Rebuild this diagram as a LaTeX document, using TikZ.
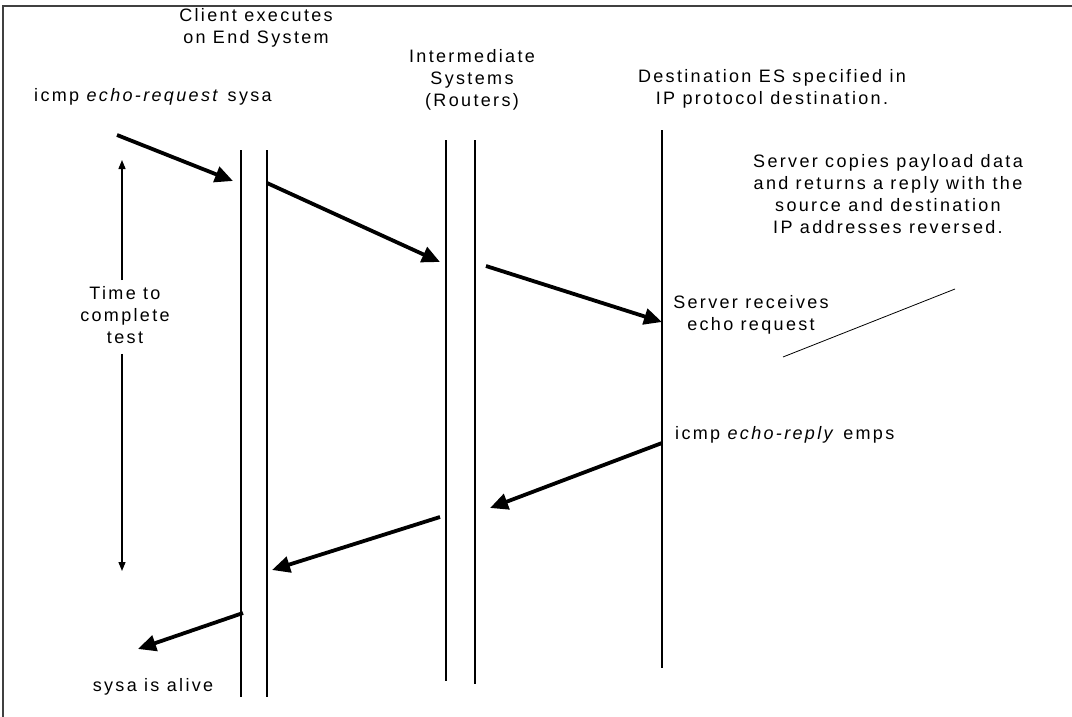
\documentclass[tikz,border=0pt]{standalone}
\usepackage{fontspec}
\setmainfont{Liberation Sans}[LetterSpace=13]
\usetikzlibrary{arrows.meta,positioning}

\begin{document}
\begin{tikzpicture}[x=1pt,y=-1pt,
    lifeline/.style={line width=1.7pt},
    msg/.style={line width=3.8pt, -{Triangle[length=18pt,width=16pt]}},
    timeline/.style={line width=1.4pt, -{Triangle[length=9pt,width=7pt]}},
    lbl/.style={inner sep=0pt, align=center, font=\fontsize{18}{22}\selectfont}]
    \useasboundingbox (0,0) rectangle (1072,717);
    \draw[line width=2.4pt, black!75] (3,717) -- (3,6) -- (1072,6);

    % lifelines
    \draw[lifeline] (241,150) -- (241,697);
    \draw[lifeline] (267,150) -- (267,697);
    \draw[lifeline] (446,140) -- (446,681);
    \draw[lifeline] (475,140) -- (475,684);
    \draw[lifeline] (662,130) -- (662,668);

    % headings
    \node[lbl] (client) at (256,28) {Client executes\\on End System};
    \node[lbl] (routers) at (472,80) {Intermediate\\Systems\\(Routers)};
    \node[lbl] (dest) at (772,89) {Destination ES specified in\\IP protocol destination.};

    % request path
    \node[lbl, anchor=west] (req) at (34,97) {icmp \textit{echo-request} sysa};
    \coordinate (req0) at (117,135);
    \coordinate (req1) at (233,181);
    \coordinate (req2) at (267,183);
    \coordinate (req3) at (440,262);
    \coordinate (req4) at (486,266);
    \coordinate (req5) at (662,322);
    \draw[msg] (req0) -- (req1);
    \draw[msg] (req2) -- (req3);
    \draw[msg] (req4) -- (req5);

    \node[lbl] (copies) at (888,194) {Server copies payload data\\and returns a reply with the\\source and destination\\IP addresses reversed.};
    \node[lbl] (recv) at (751,315) {Server receives\\echo request};
    \coordinate (noteA) at (783,357);
    \coordinate (noteB) at (955,289);
    \draw[line width=0.8pt] (noteA) -- (noteB);

    % reply path
    \node[lbl, anchor=west] (rep) at (675,435) {icmp \textit{echo-reply} emps};
    \coordinate (rep0) at (662,443);
    \coordinate (rep1) at (490,508);
    \coordinate (rep2) at (440,517);
    \coordinate (rep3) at (272,570);
    \coordinate (rep4) at (243,613);
    \coordinate (rep5) at (138,649);
    \draw[msg] (rep0) -- (rep1);
    \draw[msg] (rep2) -- (rep3);
    \draw[msg] (rep4) -- (rep5);
    \node[lbl] (alive) at (153,687) {sysa is alive};

    % round trip time
    \node[lbl] (time) at (125,315) {Time to\\complete\\test};
    \coordinate (ttop) at (122,160);
    \coordinate (tbot) at (122,571);
    \draw[timeline] ([xshift=-3pt,yshift=6pt]time.north) -- (ttop);
    \draw[timeline] ([xshift=-3pt,yshift=-10pt]time.south) -- (tbot);
\end{tikzpicture}
\end{document}
